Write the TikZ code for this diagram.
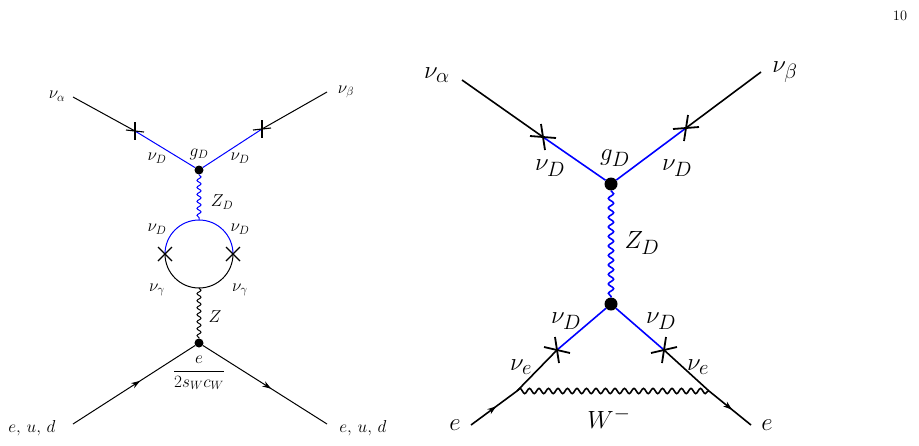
\documentclass[tikz,border=0pt]{standalone}
\usetikzlibrary{decorations.pathmorphing,decorations.markings,arrows.meta,calc}
\begin{document}
\begin{tikzpicture}[x=1pt,y=-1pt,
 fer/.style={line width=1pt},
 ferb/.style={line width=1.6pt},
 dark/.style={fer,blue},
 darkb/.style={ferb,blue},
 wl/.style={fer,decorate,decoration={snake,segment length=7pt,amplitude=2pt}},
 wr/.style={ferb,decorate,decoration={snake,segment length=9.5pt,amplitude=2.6pt}},
 mid/.style={postaction={decorate},decoration={markings,mark=at position 0.55 with {\arrow{Stealth[length=9pt,width=6pt]}}}},
 crs/.style={line width=1.1pt},
 crsb/.style={line width=1.8pt},
 dot/.style={circle,fill,inner sep=0pt,minimum size=#1},
 lab/.style={inner sep=1pt,font=\LARGE},
 labb/.style={inner sep=1pt,font=\Huge}]
\useasboundingbox (0,0) rectangle (919,445);
\node[font=\Large] (pg) at (900,16) {10};
% ---------- left diagram
\coordinate (la) at (73,97); \coordinate (lca) at (135,131);
\coordinate (lb) at (327,92); \coordinate (lcb) at (262,129);
\node[dot=9pt] (lv1) at (199,170) {};
\coordinate (lt) at (199,220); \coordinate (lbt) at (199,288);
\coordinate (ll) at (165,254); \coordinate (lr) at (233,254);
\node[dot=9pt] (lv2) at (199,343) {};
\coordinate (lin) at (73,424); \coordinate (lout) at (327,424);
\draw[fer] (la) -- (lca);
\draw[dark] (lca) -- (lv1) -- (lcb);
\draw[fer] (lcb) -- (lb);
\draw[crs] ($(lca)+(0,-9)$) -- ($(lca)+(0,9)$);
\draw[crs] ($(lca)+(-9,-1)$) -- ($(lca)+(9,1)$);
\draw[crs] ($(lcb)+(0,-9)$) -- ($(lcb)+(0,9)$);
\draw[crs] ($(lcb)+(-9,1)$) -- ($(lcb)+(9,-1)$);
\draw[wl,blue] (lv1) -- (lt);
\draw[dark] (ll) arc[start angle=180,end angle=360,radius=34];
\draw[fer] (ll) arc[start angle=180,end angle=0,radius=34];
\draw[crs] ($(ll)+(-7,-7)$) -- ($(ll)+(7,7)$);
\draw[crs] ($(ll)+(-7,7)$) -- ($(ll)+(7,-7)$);
\draw[crs] ($(lr)+(-7,-7)$) -- ($(lr)+(7,7)$);
\draw[crs] ($(lr)+(-7,7)$) -- ($(lr)+(7,-7)$);
\draw[wl] (lbt) -- (lv2);
\draw[fer,mid] (lin) -- (lv2);
\draw[fer,mid] (lv2) -- (lout);
\node[lab] (t1) at (57,96) {$\nu_\alpha$};
\node[lab] (t2) at (346,92) {$\nu_\beta$};
\node[lab] (t3) at (157,158) {$\nu_D$};
\node[lab] (t4) at (240,158) {$\nu_D$};
\node[lab] (t5) at (199,154) {$g_D$};
\node[lab] (t6) at (222,202) {$Z_D$};
\node[lab] (t7) at (157,229) {$\nu_D$};
\node[lab] (t8) at (240,229) {$\nu_D$};
\node[lab] (t9) at (157,290) {$\nu_\gamma$};
\node[lab] (t10) at (240,290) {$\nu_\gamma$};
\node[lab] (t11) at (215,317) {$Z$};
\node[lab] (t12) at (199,373) {$\displaystyle\frac{e}{2s_Wc_W}$};
\node[lab] (t13) at (32,428) {$e,\,u,\,d$};
\node[lab] (t14) at (363,428) {$e,\,u,\,d$};
% ---------- right diagram
\coordinate (ra) at (462,80); \coordinate (rca) at (543,137);
\coordinate (rb) at (761,72); \coordinate (rcb) at (686,128);
\node[dot=13pt] (rv1) at (611,184) {};
\node[dot=13pt] (rv2) at (611,304) {};
\coordinate (rcl) at (557,350); \coordinate (rcr) at (664,350);
\coordinate (rwl) at (517,391); \coordinate (rwr) at (709,391);
\coordinate (rin) at (471,425); \coordinate (rout) at (751,425);
\draw[ferb] (ra) -- (rca);
\draw[darkb] (rca) -- (rv1) -- (rcb);
\draw[ferb] (rcb) -- (rb);
\draw[crsb] ($(rca)+(-2,-13)$) -- ($(rca)+(2,13)$);
\draw[crsb] ($(rca)+(-13,-1)$) -- ($(rca)+(13,1)$);
\draw[crsb] ($(rcb)+(2,-13)$) -- ($(rcb)+(-2,13)$);
\draw[crsb] ($(rcb)+(-13,1)$) -- ($(rcb)+(13,-1)$);
\draw[wr,blue] (rv1) -- (rv2);
\draw[darkb] (rcl) -- (rv2) -- (rcr);
\draw[crsb] ($(rcl)+(-2,-13)$) -- ($(rcl)+(2,13)$);
\draw[crsb] ($(rcl)+(-13,-3)$) -- ($(rcl)+(13,3)$);
\draw[crsb] ($(rcr)+(2,-13)$) -- ($(rcr)+(-2,13)$);
\draw[crsb] ($(rcr)+(-13,3)$) -- ($(rcr)+(13,-3)$);
\draw[ferb,mid] (rin) -- (rwl);
\draw[ferb] (rwl) -- (rcl);
\draw[ferb] (rcr) -- (rwr);
\draw[ferb,mid] (rwr) -- (rout);
\draw[wr] (rwl) -- (rwr);
\node[labb] (s1) at (437,75) {$\nu_\alpha$};
\node[labb] (s2) at (785,72) {$\nu_\beta$};
\node[labb] (s3) at (550,168) {$\nu_D$};
\node[labb] (s4) at (677,168) {$\nu_D$};
\node[labb] (s5) at (615,158) {$g_D$};
\node[labb] (s6) at (642,243) {$Z_D$};
\node[labb] (s7) at (566,321) {$\nu_D$};
\node[labb] (s8) at (661,321) {$\nu_D$};
\node[labb] (s9) at (521,367) {$\nu_e$};
\node[labb] (s10) at (698,367) {$\nu_e$};
\node[labb] (s11) at (609,418) {$W^-$};
\node[labb] (s12) at (455,425) {$e$};
\node[labb] (s13) at (767,425) {$e$};
\end{tikzpicture}
\end{document}
